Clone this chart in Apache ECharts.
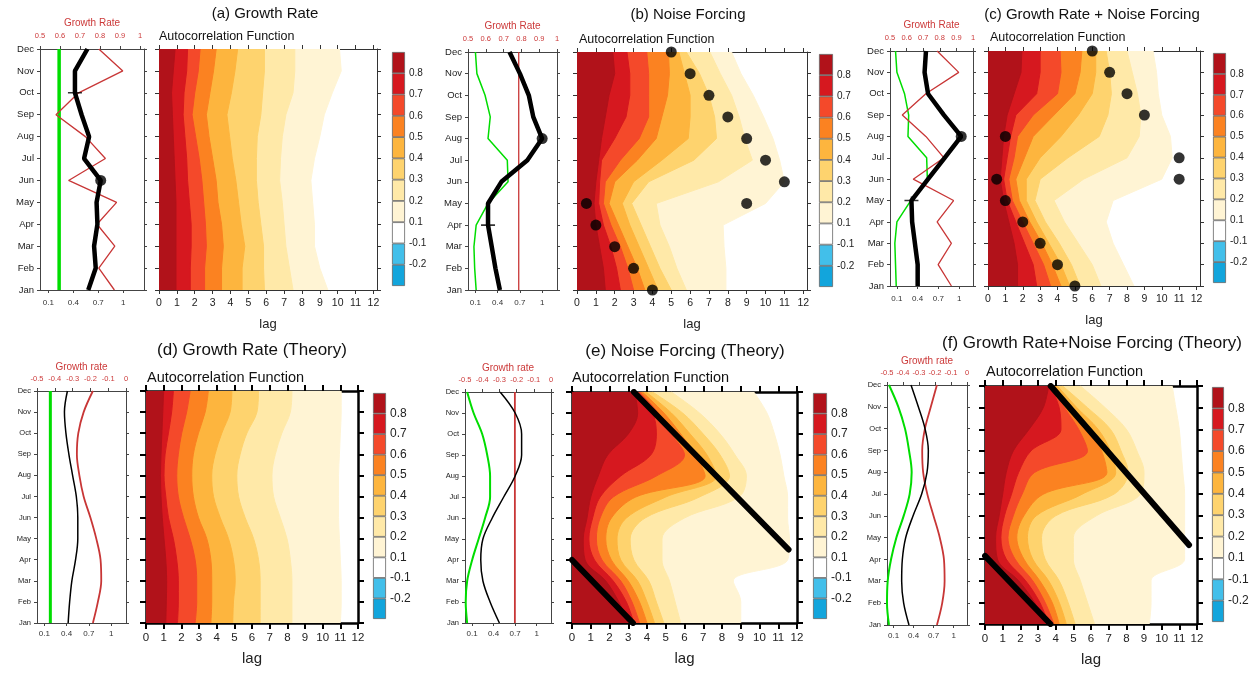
<!DOCTYPE html>
<html>
<head>
<meta charset="utf-8">
<title>Autocorrelation panels</title>
<script src="https://cdn.jsdelivr.net/npm/echarts@6/dist/echarts.min.js"></script>
<style>
  html, body { margin: 0; padding: 0; background: #fff; }
  #chart { width: 1258px; height: 673px; }
</style>
</head>
<body>
<div id="chart"></div>
<script>
// ---- axes / legend values
var months = ['Jan', 'Feb', 'Mar', 'Apr', 'May', 'Jun', 'Jul', 'Aug', 'Sep', 'Oct', 'Nov', 'Dec']
var lagTicks = [0, 1, 2, 3, 4, 5, 6, 7, 8, 9, 10, 11, 12]
var lineTicks = [0.1, 0.4, 0.7, 1]
var growthTicksObs = [0.5, 0.6, 0.7, 0.8, 0.9, 1]
var growthTicksTheory = [-0.5, -0.4, -0.3, -0.2, -0.1, 0]
var cbTicks = [1, 2, 3, 4, 5, 6, 7, 8, 9, 10]
var cbLabels = ['-0.2', '-0.1', '0.1', '0.2', '0.3', '0.4', '0.5', '0.6', '0.7', '0.8']
// fill colour above each contour level 0.1 .. 0.8
var levelColors = ['#fff4d4', '#ffe9a8', '#fed36e', '#fdb53e', '#fb8221', '#f4492a', '#d6181f', '#b1121a']
var cbColors = ['#12a5dc', '#42bfea', '#ffffff'].concat(levelColors)

// ---- (a) Growth Rate
var blackA = [0.58, 0.67, 0.65, 0.69, 0.68, 0.73, 0.53, 0.59, 0.5, 0.42, 0.42, 0.57]
var greenA = [0.23, 0.23, 0.23, 0.23, 0.23, 0.23, 0.23, 0.23, 0.23, 0.23, 0.23, 0.23]
var redA = [0.872, 0.794, 0.874, 0.785, 0.883, 0.643, 0.827, 0.727, 0.58, 0.693, 0.914, 0.794]
// lag where the ACF crosses 0.1 .. 0.8, Jan..Dec
var acfA = [
  [9.45, 9.0, 8.7, 8.7, 8.6, 8.5, 8.7, 9.0, 9.25, 9.7, 10.2, 10.1],
  [7.5, 7.3, 7.1, 7.0, 6.9, 6.75, 6.8, 6.9, 7.1, 7.5, 7.6, 7.6],
  [5.9, 5.85, 5.85, 5.7, 5.55, 5.45, 5.45, 5.5, 5.7, 5.8, 5.9, 5.9],
  [4.65, 4.65, 4.8, 4.6, 4.45, 4.3, 4.1, 3.95, 3.8, 4.05, 4.25, 4.4],
  [3.5, 3.5, 3.6, 3.5, 3.3, 3.2, 3.0, 2.8, 2.65, 2.85, 3.05, 3.2],
  [2.55, 2.55, 2.65, 2.6, 2.5, 2.4, 2.25, 2.05, 1.85, 2.0, 2.2, 2.3],
  [1.75, 1.75, 1.8, 1.8, 1.7, 1.6, 1.55, 1.45, 1.35, 1.4, 1.55, 1.6],
  [0.95, 0.95, 0.95, 0.95, 0.95, 0.9, 0.85, 0.8, 0.75, 0.7, 0.8, 0.9]
]

// ---- (b) Noise Forcing
var blackB = [0.43, 0.37, 0.32, 0.27, 0.27, 0.45, 0.8, 1.0, 0.88, 0.82, 0.7, 0.56]
var greenB = [0.11, 0.09, 0.08, 0.11, 0.27, 0.54, 0.53, 0.27, 0.3, 0.23, 0.12, 0.1]
var redB = [0.785, 0.785, 0.785, 0.785, 0.785, 0.785, 0.785, 0.785, 0.785, 0.785, 0.785, 0.785]
var acfB = [
  [7.9, 7.9, 7.8, 7.75, 10.0, 11.0, 10.75, 10.4, 9.9, 9.35, 8.7, 8.2],
  [5.8, 5.3, 4.9, 4.4, 4.2, 7.5, 9.3, 8.9, 8.6, 8.2, 7.6, 7.05],
  [5.0, 4.4, 3.9, 3.4, 2.9, 3.8, 6.2, 7.4, 7.3, 7.0, 6.5, 5.8],
  [4.3, 3.8, 3.3, 2.8, 2.4, 3.0, 4.5, 5.9, 6.0, 6.0, 5.7, 5.4],
  [3.6, 3.2, 2.7, 2.2, 1.7, 2.0, 3.2, 4.2, 4.5, 4.8, 4.9, 4.85],
  [3.0, 2.7, 2.3, 1.8, 1.4, 1.5, 2.3, 3.3, 3.8, 3.8, 3.8, 3.7],
  [2.3, 2.1, 1.8, 1.4, 1.15, 1.2, 1.3, 2.0, 2.6, 2.8, 2.8, 2.65],
  [1.5, 1.4, 1.2, 1.0, 0.9, 1.0, 1.15, 1.3, 1.5, 1.7, 2.0, 1.9]
]
var dotsB = [[4, 0], [3, 1], [2, 2], [1, 3], [0.5, 4], [9, 4], [11, 5], [10, 6], [9, 7], [8, 8], [7, 9], [6, 10], [5, 11]]

// ---- (c) Growth Rate + Noise Forcing
var blackC = [0.4, 0.4, 0.36, 0.32, 0.31, 0.55, 0.79, 1.03, 0.78, 0.55, 0.5, 0.52]
var greenC = [0.09, 0.08, 0.07, 0.1, 0.3, 0.54, 0.53, 0.26, 0.27, 0.21, 0.1, 0.08]
var redC = [0.87, 0.79, 0.87, 0.784, 0.883, 0.64, 0.825, 0.716, 0.574, 0.716, 0.914, 0.784]
var acfC = [
  [8.4, 7.8, 7.2, 6.8, 7.2, 10.0, 10.6, 10.5, 10.0, 9.8, 9.7, 9.5],
  [6.5, 6.0, 5.2, 4.4, 3.8, 5.5, 8.0, 8.7, 8.8, 8.6, 8.3, 8.0],
  [5.3, 4.8, 4.1, 3.3, 2.7, 3.0, 4.6, 6.4, 6.9, 7.1, 7.0, 6.8],
  [4.7, 4.2, 3.5, 2.8, 2.2, 2.2, 3.0, 4.2, 5.2, 6.0, 6.2, 6.2],
  [4.2, 3.7, 3.1, 2.4, 1.8, 1.6, 2.1, 2.6, 3.8, 5.0, 5.3, 5.4],
  [3.6, 3.2, 2.6, 2.0, 1.4, 1.2, 1.5, 1.7, 2.6, 4.0, 4.2, 4.15],
  [2.8, 2.6, 2.1, 1.6, 1.1, 0.9, 1.1, 1.3, 1.6, 2.8, 3.0, 3.0],
  [1.7, 1.7, 1.5, 1.2, 0.9, 0.7, 0.8, 0.9, 1.1, 1.5, 1.9, 1.95]
]
var dotsC = [[5, 0], [4, 1], [3, 2], [2, 3], [1, 4], [0.5, 5], [11, 5], [11, 6], [1, 7], [9, 8], [8, 9], [7, 10], [6, 11]]

// ---- (d) Growth Rate (Theory)
var blackD = [0.42, 0.44, 0.47, 0.52, 0.55, 0.55, 0.53, 0.48, 0.43, 0.39, 0.37, 0.41]
var greenD = [0.18, 0.18, 0.18, 0.18, 0.18, 0.18, 0.18, 0.18, 0.18, 0.18, 0.18, 0.18]
var redD = [-0.186, -0.158, -0.139, -0.143, -0.167, -0.2, -0.238, -0.262, -0.276, -0.268, -0.238, -0.186]
var acfD = [
  [11.0, 11.05, 11.05, 11.0, 10.95, 10.9, 10.9, 10.9, 10.95, 11.0, 11.05, 11.05],
  [8.26, 8.26, 8.26, 8.17, 7.98, 7.6, 7.22, 7.13, 7.32, 7.69, 8.17, 8.26],
  [6.46, 6.46, 6.46, 6.37, 6.09, 5.61, 5.24, 5.14, 5.33, 5.71, 6.28, 6.37],
  [4.91, 4.95, 5.05, 4.95, 4.67, 4.2, 3.82, 3.72, 3.91, 4.29, 4.76, 4.86],
  [3.67, 3.72, 3.72, 3.67, 3.44, 2.97, 2.68, 2.59, 2.68, 2.97, 3.35, 3.53],
  [2.78, 2.87, 2.87, 2.78, 2.5, 2.12, 1.83, 1.74, 1.83, 2.02, 2.3, 2.5],
  [1.78, 1.83, 1.83, 1.74, 1.55, 1.27, 1.12, 1.02, 1.08, 1.27, 1.45, 1.55],
  [1.12, 1.15, 1.17, 1.12, 1.02, 0.92, 0.85, 0.82, 0.85, 0.9, 0.95, 1.0]
]

// ---- (e) Noise Forcing (Theory)
var blackE = [0.48, 0.35, 0.25, 0.22, 0.25, 0.38, 0.54, 0.7, 0.79, 0.79, 0.7, 0.49]
var greenE = [0.03, 0.01, 0.03, 0.1, 0.19, 0.28, 0.35, 0.35, 0.31, 0.24, 0.12, 0.03]
var redE = [-0.21, -0.21, -0.21, -0.21, -0.21, -0.21, -0.21, -0.21, -0.21, -0.21, -0.21, -0.21]
var acfE = [
  [9.0, 9.0, 8.6, 11.5, 11.6, 11.5, 11.5, 11.3, 11.1, 10.8, 10.4, 9.7],
  [5.8, 5.5, 5.2, 4.8, 4.8, 6.0, 8.9, 9.3, 8.7, 7.9, 6.8, 5.3],
  [4.9, 4.5, 4.1, 3.3, 3.1, 3.9, 6.8, 8.4, 7.9, 7.0, 5.9, 4.3],
  [4.4, 4.0, 3.5, 2.6, 2.4, 2.9, 5.0, 7.7, 7.2, 6.3, 5.3, 3.95],
  [4.0, 3.6, 3.0, 2.1, 1.8, 2.1, 3.4, 7.1, 6.6, 5.8, 4.9, 3.75],
  [3.6, 3.2, 2.6, 1.6, 1.3, 1.5, 2.2, 4.5, 6.0, 5.3, 4.6, 3.6],
  [3.3, 2.9, 2.2, 1.2, 0.9, 1.1, 1.5, 2.6, 4.2, 4.5, 4.3, 3.5],
  [3.0, 2.5, 1.8, 0.7, 0.6, 0.8, 1.0, 1.4, 1.9, 3.0, 3.5, 3.35]
]
var diagE = [[[0, 3.0], [3.25, 0]], [[3.3, 11], [11.55, 3.5]]]

// ---- (f) Growth Rate+Noise Forcing (Theory)
var blackF = [0.33, 0.25, 0.22, 0.23, 0.28, 0.39, 0.52, 0.6, 0.62, 0.57, 0.47, 0.36]
var greenF = [0.03, 0.0, 0.01, 0.06, 0.14, 0.25, 0.34, 0.37, 0.33, 0.27, 0.17, 0.03]
var redF = [-0.188, -0.155, -0.14, -0.144, -0.17, -0.209, -0.248, -0.274, -0.28, -0.263, -0.226, -0.188]
var acfF = [
  [9.3, 9.4, 9.4, 11.3, 11.3, 11.3, 11.3, 11.2, 11.1, 11.0, 10.8, 10.6],
  [6.2, 5.8, 5.4, 5.0, 5.0, 6.3, 8.8, 9.0, 8.6, 8.0, 6.8, 5.4],
  [5.1, 4.7, 4.2, 3.4, 3.2, 4.0, 7.3, 8.1, 7.7, 7.1, 5.8, 4.4],
  [4.6, 4.2, 3.6, 2.7, 2.4, 2.9, 5.5, 7.4, 7.1, 6.4, 5.2, 4.1],
  [4.2, 3.8, 3.1, 2.2, 1.8, 2.2, 3.3, 6.9, 6.6, 5.9, 4.8, 3.95],
  [3.9, 3.4, 2.7, 1.7, 1.3, 1.6, 2.1, 2.8, 5.8, 5.3, 4.5, 3.8],
  [3.6, 3.1, 2.3, 1.2, 0.9, 1.1, 1.5, 1.9, 2.6, 4.3, 4.2, 3.7],
  [3.4, 2.8, 1.9, 0.7, 0.6, 0.8, 1.0, 1.2, 1.6, 2.5, 3.3, 3.6]
]
var diagF = [[[0, 3.15], [3.7, 0]], [[3.72, 11], [11.55, 3.65]]]

// ---- layout
var FONT = '"Liberation Sans", Arial, sans-serif'
var rowTop = { // observed panels
  heatColor: '#333', heatW: 1, tickLen: 4, tickW: 1, monthFont: 9.5, lagFont: 10.5, lagMargin: 8,
  lagGap: 28, lagNameFont: 13, cbFont: 10, titleFont: 15, acfFont: 12.5, lineLabelMargin: 9,
  topLabelMargin: 9, topNameGap: 21, blackW: 4.5, redW: 1.3
}
var rowBottom = { // theory panels
  heatColor: '#000', heatW: 2.5, tickLen: 6, tickW: 2, monthFont: 7.5, lagFont: 11.5, lagMargin: 9,
  lagGap: 28, lagNameFont: 15, cbFont: 12, titleFont: 17, acfFont: 14.5, lineLabelMargin: 7,
  topLabelMargin: 8, topNameGap: 19, blackW: 1.5, redW: 1.8
}

var panels = [
  {s: rowTop, title: '(a) Growth Rate', titleXY: [265, 14], acfXY: [159, 37], topName: 'Growth Rate',
   line: [40, 49, 104, 241], lineMax: 1.25, top: [0.5, 1.02], topTicks: growthTicksObs,
   heat: [159, 49, 218, 241], lagMax: 12.2, cb: [392, 52, 13, 234], smooth: false, greenW: 3.5,
   black: blackA, green: greenA, red: redA, acf: acfA, dotAt: 5, crossAt: 9},
  {s: rowTop, title: '(b) Noise Forcing', titleXY: [688, 15], acfXY: [579, 40], topName: 'Growth Rate',
   line: [468, 52, 89, 238], lineMax: 1.2, top: [0.5, 1], topTicks: growthTicksObs,
   heat: [577, 52, 230, 238], lagMax: 12.2, cb: [819, 54, 14, 233], smooth: false, greenW: 1.5,
   black: blackB, green: greenB, red: redB, acf: acfB, dots: dotsB, dotAt: 7, crossAt: 3},
  {s: rowTop, title: '(c) Growth Rate + Noise Forcing', titleXY: [1092, 15], acfXY: [990, 38], topName: 'Growth Rate',
   line: [890, 51, 83, 235], lineMax: 1.2, top: [0.5, 1], topTicks: growthTicksObs,
   heat: [988, 51, 212, 235], lagMax: 12.2, cb: [1213, 53, 13, 230], smooth: false, greenW: 1.5,
   black: blackC, green: greenC, red: redC, acf: acfC, dots: dotsC, dotAt: 7, crossAt: 4},
  {s: rowBottom, title: '(d) Growth Rate (Theory)', titleXY: [252, 350], acfXY: [147, 378], topName: 'Growth rate',
   line: [37, 391, 89, 232], lineMax: 1.2, top: [-0.5, 0], topTicks: growthTicksTheory,
   heat: [146, 391, 212, 232], lagMax: 12, cb: [373, 393, 13, 226], smooth: 0.35, greenW: 3,
   black: blackD, green: greenD, red: redD, acf: acfD},
  {s: rowBottom, title: '(e) Noise Forcing (Theory)', titleXY: [685, 351], acfXY: [572, 378], topName: 'Growth rate',
   line: [465, 392, 86, 231], lineMax: 1.2, top: [-0.5, 0], topTicks: growthTicksTheory,
   heat: [572, 392, 225, 231], lagMax: 12, cb: [813, 393, 14, 226], smooth: 0.35, greenW: 2,
   black: blackE, green: greenE, red: redE, acf: acfE, diag: diagE},
  {s: rowBottom, title: '(f) Growth Rate+Noise Forcing (Theory)', titleXY: [1092, 343], acfXY: [986, 372], topName: 'Growth rate',
   line: [887, 385, 80, 240], lineMax: 1.2, top: [-0.5, 0], topTicks: growthTicksTheory,
   heat: [985, 386, 212, 238], lagMax: 12, cb: [1212, 387, 12, 235], smooth: 0.35, greenW: 2,
   black: blackF, green: greenF, red: redF, acf: acfF, diag: diagF}
]

var option = {
  animation: false,
  backgroundColor: '#ffffff',
  textStyle: {fontFamily: FONT},
  graphic: {elements: []},
  grid: [], xAxis: [], yAxis: [], series: []
}

function txt(str, x, y, size, align) {
  option.graphic.elements.push({
    type: 'text', x: x, y: y, silent: true,
    style: {text: str, fill: '#111', font: size + 'px ' + FONT,
            textAlign: align, textVerticalAlign: 'middle', align: align, verticalAlign: 'middle'}
  })
}
function ax(color, width) {
  return {show: true, onZero: false, lineStyle: {color: color, width: width}}
}
function tk(len, color, width, vals) {
  var t = {show: true, inside: false, length: len, lineStyle: {color: color, width: width}}
  if (vals) t.customValues = vals
  return t
}
function pts(vals) {
  return vals.map(function (v, i) { return [v, i] })
}

function addPanel(p) {
  var s = p.s
  var g = option.grid.length
  var xi = option.xAxis.length
  var yi = option.yAxis.length
  option.grid.push(
    {left: p.line[0], top: p.line[1], width: p.line[2], height: p.line[3]},
    {left: p.heat[0], top: p.heat[1], width: p.heat[2], height: p.heat[3]},
    {left: p.cb[0], top: p.cb[1], width: p.cb[2], height: p.cb[3]}
  )
  var thin = ax('#444', 1)
  var heavy = ax(s.heatColor, s.heatW)

  option.xAxis.push(
    // side plot, bottom
    {gridIndex: g, type: 'value', min: 0, max: p.lineMax, splitLine: {show: false},
     axisLine: thin, axisTick: tk(3, '#444', 1, lineTicks),
     axisLabel: {customValues: lineTicks, fontSize: 8, color: '#333', margin: s.lineLabelMargin}},
    // side plot, top: growth rate
    {gridIndex: g, type: 'value', position: 'top', min: p.top[0], max: p.top[1], splitLine: {show: false},
     name: p.topName, nameLocation: 'middle', nameGap: s.topNameGap,
     nameTextStyle: {color: '#cc3a3a', fontSize: 10},
     axisLine: thin, axisTick: tk(3, '#444', 1, p.topTicks),
     axisLabel: {customValues: p.topTicks, fontSize: 7.5, color: '#cc3a3a', margin: s.topLabelMargin}},
    // ACF, bottom
    {gridIndex: g + 1, type: 'value', min: 0, max: p.lagMax, splitLine: {show: false},
     name: 'lag', nameLocation: 'middle', nameGap: s.lagGap,
     nameTextStyle: {fontSize: s.lagNameFont, color: '#222'},
     axisLine: heavy, axisTick: tk(s.tickLen, s.heatColor, s.tickW, lagTicks),
     axisLabel: {customValues: lagTicks, fontSize: s.lagFont, color: '#222', margin: s.lagMargin}},
    // ACF, top
    {gridIndex: g + 1, type: 'value', position: 'top', min: 0, max: p.lagMax, splitLine: {show: false},
     axisLine: heavy, axisTick: tk(s.tickLen, s.heatColor, s.tickW, lagTicks), axisLabel: {show: false}},
    // colour bar
    {gridIndex: g + 2, type: 'value', min: 0, max: 1, show: false}
  )

  option.yAxis.push(
    {gridIndex: g, type: 'value', min: 0, max: 11, interval: 1, splitLine: {show: false},
     axisLine: thin, axisTick: tk(3, '#444', 1),
     axisLabel: {fontSize: s.monthFont, color: '#222', margin: 6, formatter: function (v) { return months[v] }}},
    {gridIndex: g, type: 'value', position: 'right', min: 0, max: 11, interval: 1, splitLine: {show: false},
     axisLine: thin, axisTick: tk(3, '#444', 1), axisLabel: {show: false}},
    {gridIndex: g + 1, type: 'category', data: months, boundaryGap: false,
     axisLine: heavy,
     axisTick: {show: true, interval: 0, length: s.tickLen, lineStyle: {color: s.heatColor, width: s.tickW}},
     axisLabel: {show: false}},
    {gridIndex: g + 1, type: 'value', position: 'right', min: 0, max: 11, interval: 1, splitLine: {show: false},
     axisLine: heavy, axisTick: tk(s.tickLen, s.heatColor, s.tickW), axisLabel: {show: false}},
    {gridIndex: g + 2, type: 'category', data: cbColors.map(function (c, i) { return i }), show: false},
    {gridIndex: g + 2, type: 'value', position: 'right', min: 0, max: 11, splitLine: {show: false},
     axisLine: {show: false}, axisTick: {show: false},
     axisLabel: {customValues: cbTicks, fontSize: s.cbFont, color: '#222', margin: 4,
                 formatter: function (v) { return cbLabels[v - 1] }}}
  )

  // filled contour bands, lightest first
  p.acf.forEach(function (row, i) {
    option.series.push({
      type: 'line', xAxisIndex: xi + 2, yAxisIndex: yi + 2, data: row, symbol: 'none',
      smooth: p.smooth, lineStyle: {width: 1, color: levelColors[i]},
      areaStyle: {color: levelColors[i], opacity: 1}, silent: true, z: 1
    })
  })
  if (p.dots) {
    option.series.push({type: 'scatter', xAxisIndex: xi + 2, yAxisIndex: yi + 3, data: p.dots,
      symbolSize: 11, itemStyle: {color: '#000'}, silent: true, z: 5})
  }
  if (p.diag) {
    p.diag.forEach(function (seg) {
      option.series.push({type: 'line', xAxisIndex: xi + 2, yAxisIndex: yi + 3, data: seg, symbol: 'none',
        lineStyle: {color: '#000', width: 6, cap: 'round'}, silent: true, z: 5})
    })
  }

  // side line plot
  option.series.push(
    {type: 'line', xAxisIndex: xi, yAxisIndex: yi, data: pts(p.green), symbol: 'none', smooth: p.smooth,
     lineStyle: {color: '#00dd00', width: p.greenW}, silent: true, z: 3},
    {type: 'line', xAxisIndex: xi + 1, yAxisIndex: yi, data: pts(p.red), symbol: 'none', smooth: p.smooth,
     lineStyle: {color: '#c83636', width: s.redW}, silent: true, z: 3},
    {type: 'line', xAxisIndex: xi, yAxisIndex: yi, data: pts(p.black), symbol: 'none', smooth: p.smooth,
     lineStyle: {color: '#000', width: s.blackW}, silent: true, z: 4}
  )
  if (p.dotAt != null) {
    option.series.push({type: 'scatter', xAxisIndex: xi, yAxisIndex: yi, data: [[p.black[p.dotAt], p.dotAt]],
      symbolSize: 11, itemStyle: {color: '#000'}, silent: true, z: 5})
  }
  if (p.crossAt != null) {
    option.series.push({type: 'scatter', xAxisIndex: xi, yAxisIndex: yi, data: [[p.black[p.crossAt], p.crossAt]],
      symbol: 'path://M0,4h20v2h-20z M9,0h2v10h-2z', symbolSize: [14, 8], itemStyle: {color: '#000'}, silent: true, z: 5})
  }

  // colour bar
  option.series.push({
    type: 'bar', xAxisIndex: xi + 4, yAxisIndex: yi + 4, barWidth: '100%',
    data: cbColors.map(function (c) { return {value: 1, itemStyle: {color: c}} }),
    itemStyle: {borderColor: '#666', borderWidth: 0.8}, silent: true
  })

  txt(p.title, p.titleXY[0], p.titleXY[1], s.titleFont, 'center')
  txt('Autocorrelation Function', p.acfXY[0], p.acfXY[1], s.acfFont, 'left')
}

panels.forEach(addPanel)

var chart = echarts.init(document.getElementById('chart'))
chart.setOption(option)
window.addEventListener('resize', function () {
  chart.resize()
})
</script>
</body>
</html>
